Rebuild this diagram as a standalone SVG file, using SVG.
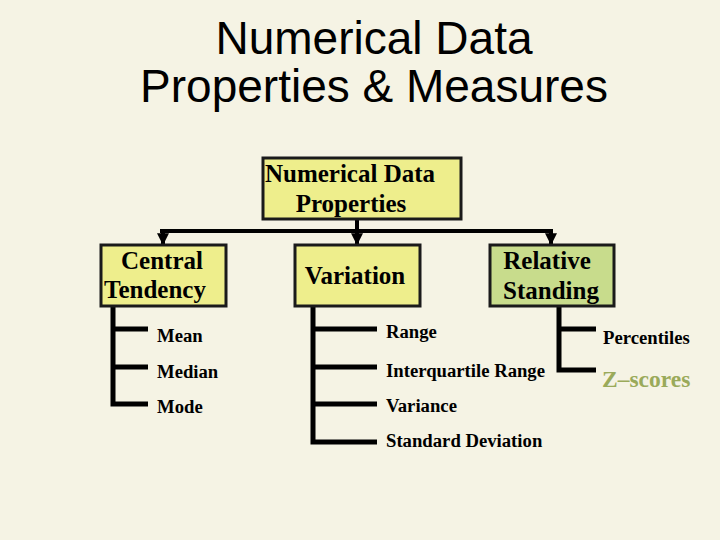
<svg xmlns="http://www.w3.org/2000/svg" width="720" height="540" viewBox="0 0 720 540">
<defs>
<style>
.title{font-family:"Liberation Sans",Arial,sans-serif;font-size:46px;fill:#000;text-anchor:middle}
.box{fill:#eeee8c;stroke:#1a1a1a;stroke-width:3}
.box2{fill:#c8dc8c;stroke:#1a1a1a;stroke-width:3}
.bt{font-family:"Liberation Serif","Times New Roman",serif;font-size:25px;font-weight:bold;fill:#000;text-anchor:middle}
.it{font-family:"Liberation Serif","Times New Roman",serif;font-size:18.7px;font-weight:bold;fill:#000}
.ln{fill:none;stroke:#000;stroke-width:5}
.ar{fill:none;stroke:#000;stroke-width:4}
</style>
<marker id="ah" viewBox="0 0 10 10" refX="9" refY="5" markerWidth="3" markerHeight="3" orient="auto" markerUnits="strokeWidth">
<path d="M0,0 L10,5 L0,10 z" fill="#000"/>
</marker>
</defs>
<rect width="720" height="540" fill="#f5f3e4"/>
<text class="title" x="374" y="54">Numerical Data</text>
<text class="title" x="374" y="102">Properties &amp; Measures</text>
<g id="connectors">
<path class="ar" d="M357,220 V231"/>
<path class="ar" d="M160,231 H553"/>
<path class="ar" d="M163,231 V244" marker-end="url(#ah)"/>
<path class="ar" d="M357,231 V244" marker-end="url(#ah)"/>
<path class="ar" d="M551,231 V244" marker-end="url(#ah)"/>
<path class="ln" d="M113,307 V404 H148 M113,329 H148 M113,367 H148"/>
<path class="ln" d="M313,307 V442 H377 M313,329 H377 M313,367 H377 M313,404 H377"/>
<path class="ln" d="M559,307 V370 H596 M559,329 H596"/>
</g>
<g id="root">
<rect class="box" x="263" y="158" width="198" height="61"/>
<text class="bt" x="350" y="182">Numerical Data</text>
<text class="bt" x="351" y="212">Properties</text>
</g>
<g id="central">
<rect class="box" x="101" y="245" width="125" height="61"/>
<text class="bt" x="162" y="269">Central</text>
<text class="bt" x="155" y="298">Tendency</text>
</g>
<g id="variation">
<rect class="box" x="295" y="245" width="125" height="61"/>
<text class="bt" x="355" y="284">Variation</text>
</g>
<g id="relative">
<rect class="box2" x="490" y="245" width="124" height="61"/>
<text class="bt" x="547" y="269">Relative</text>
<text class="bt" x="551" y="299">Standing</text>
</g>
<g id="items">
<text class="it" x="157" y="342">Mean</text>
<text class="it" x="157" y="378">Median</text>
<text class="it" x="157" y="413">Mode</text>
<text class="it" x="386" y="338">Range</text>
<text class="it" x="386" y="377">Interquartile Range</text>
<text class="it" x="386" y="412">Variance</text>
<text class="it" x="386" y="447">Standard Deviation</text>
<text class="it" x="603" y="344">Percentiles</text>
<text class="it" x="602" y="387" style="font-size:23.5px;fill:#9aaa5a">Z–scores</text>
</g>
</svg>
